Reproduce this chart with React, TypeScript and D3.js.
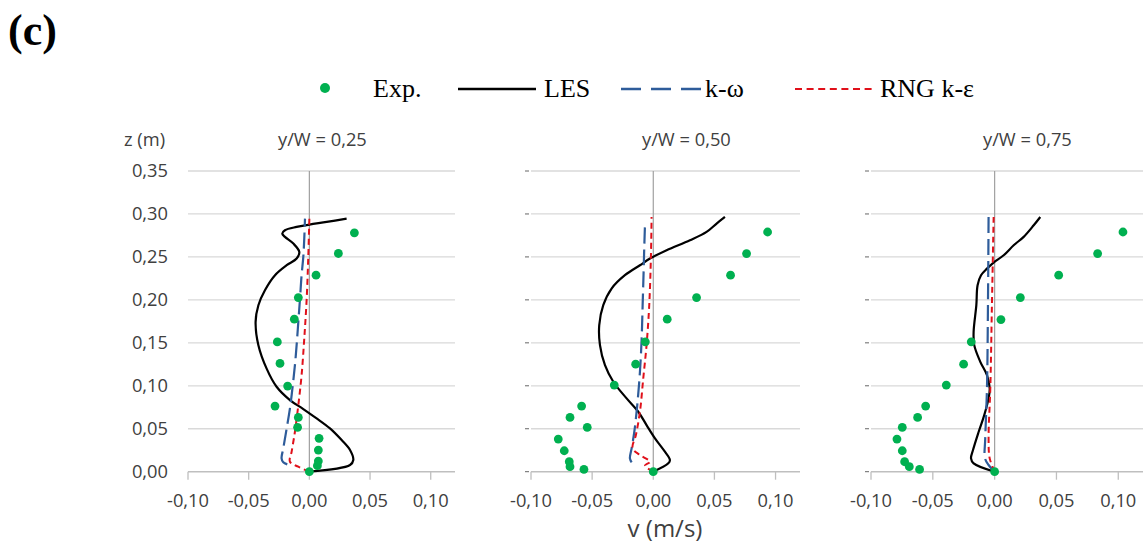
import React from "react";
import * as d3 from "d3";

type P = [number, number];

const panelTitles = ["y/W = 0,25", "y/W = 0,50", "y/W = 0,75"];
const xTicks = [-0.1, -0.05, 0, 0.05, 0.1];
const zTicks = [0, 0.05, 0.1, 0.15, 0.2, 0.25, 0.3, 0.35];
const legendLabels = ["Exp.", "LES", "k-\u03c9", "RNG k-\u03b5"];

// ---- y/W = 0,25 ----
const exp025: P[] = [
  [0.0371, 0.278], [0.0239, 0.254], [0.0055, 0.2287], [-0.0091, 0.2027], [-0.0124, 0.1775],
  [-0.0264, 0.151], [-0.0242, 0.126], [-0.0179, 0.0997], [-0.0283, 0.0764], [-0.0091, 0.0632],
  [-0.0097, 0.0516], [0.008, 0.0388], [0.0074, 0.0252], [0.0074, 0.0124], [0.0066, 0.007], [0, 0],
];
const les025: P[] = [
  [0, 0], [0.0335, 0.0078], [0.0362, 0.0136], [0.0335, 0.0252], [0.0266, 0.0368], [0.017, 0.0504],
  [0.006, 0.062], [-0.005, 0.0729], [-0.016, 0.0834], [-0.027, 0.0989], [-0.0352, 0.12],
  [-0.042, 0.1473], [-0.0443, 0.1744], [-0.042, 0.1938], [-0.0366, 0.2112], [-0.0283, 0.2287],
  [-0.0187, 0.2403], [-0.0105, 0.2481], [-0.0083, 0.2558], [-0.0132, 0.2655], [-0.0201, 0.2733],
  [-0.0223, 0.2771], [-0.0201, 0.281], [-0.0105, 0.2849], [0, 0.2876], [0.0143, 0.2907], [0.0307, 0.2946],
];
const kw025: P[] = [
  [-0.0182, 0.0085], [-0.0215, 0.0109], [-0.0229, 0.0155], [-0.0215, 0.0271], [-0.0187, 0.0504],
  [-0.016, 0.0737], [-0.0138, 0.0989], [-0.0119, 0.124], [-0.0105, 0.1473], [-0.0091, 0.1744],
  [-0.0077, 0.2016], [-0.0064, 0.2287], [-0.005, 0.25], [-0.0042, 0.2713], [-0.0036, 0.2946],
];
const rng025: P[] = [
  [0, 0], [-0.0091, 0.0058], [-0.016, 0.0116], [-0.0146, 0.0233], [-0.0119, 0.0465], [-0.0091, 0.0775],
  [-0.0064, 0.1124], [-0.0042, 0.155], [-0.0022, 0.2016], [-0.0009, 0.25], [0, 0.2946],
];

// ---- y/W = 0,50 ----
const exp050: P[] = [
  [0.0935, 0.279], [0.0763, 0.2539], [0.0632, 0.2287], [0.0354, 0.2027], [0.0114, 0.1775],
  [-0.0065, 0.1512], [-0.0144, 0.1252], [-0.0319, 0.1008], [-0.0586, 0.0764], [-0.0681, 0.0632],
  [-0.054, 0.0516], [-0.0777, 0.038], [-0.0728, 0.0244], [-0.0687, 0.0116], [-0.0681, 0.0058],
  [-0.0567, 0.0027], [0, 0],
];
const les050: P[] = [
  [0, 0], [0.0123, 0.0097], [0.0136, 0.0136], [0.0095, 0.0233], [0.0014, 0.0388], [-0.0055, 0.0543],
  [-0.0123, 0.0698], [-0.0218, 0.0853], [-0.0327, 0.1047], [-0.0395, 0.124], [-0.0436, 0.1473],
  [-0.0442, 0.1705], [-0.0409, 0.1938], [-0.0341, 0.2132], [-0.0232, 0.2287], [-0.0109, 0.2403],
  [-0.0027, 0.2481], [0.0109, 0.2578], [0.03, 0.2694], [0.0436, 0.2791], [0.0518, 0.2888], [0.0586, 0.2965],
];
const kw050: P[] = [
  [-0.0177, 0.0109], [-0.0191, 0.0155], [-0.0177, 0.0272], [-0.0155, 0.0465], [-0.0131, 0.0775],
  [-0.0109, 0.1163], [-0.0095, 0.155], [-0.0087, 0.1938], [-0.0079, 0.2326], [-0.0074, 0.2597],
  [-0.0068, 0.2868],
];
const rng050: P[] = [
  [0, 0], [-0.0068, 0.007], [-0.0027, 0.0116], [-0.0109, 0.0194], [-0.0169, 0.0272], [-0.0142, 0.0427],
  [-0.0109, 0.0698], [-0.0082, 0.1085], [-0.0055, 0.1473], [-0.0033, 0.1938], [-0.0019, 0.252],
  [-0.0014, 0.2965],
];

// ---- y/W = 0,75 ----
const exp075: P[] = [
  [0.1038, 0.279], [0.0833, 0.2539], [0.0518, 0.2287], [0.0208, 0.2027], [0.0051, 0.1771],
  [-0.0189, 0.1512], [-0.0251, 0.1252], [-0.0391, 0.1008], [-0.0558, 0.0764], [-0.0623, 0.0632],
  [-0.0747, 0.0516], [-0.079, 0.038], [-0.0747, 0.0244], [-0.0728, 0.0116], [-0.069, 0.0058],
  [-0.0607, 0.0027], [0, 0],
];
const les075: P[] = [
  [0, 0], [-0.017, 0.0097], [-0.0191, 0.0155], [-0.0175, 0.0252], [-0.0129, 0.0465], [-0.0084, 0.0659],
  [-0.0049, 0.0853], [-0.004, 0.0969], [-0.0062, 0.1124], [-0.0116, 0.1279], [-0.0165, 0.1473],
  [-0.017, 0.1628], [-0.0148, 0.1938], [-0.0138, 0.2171], [-0.011, 0.2287], [-0.0062, 0.2364],
  [-0.0008, 0.2434], [0.0073, 0.2519], [0.0154, 0.2636], [0.0235, 0.2733], [0.0316, 0.2868], [0.0369, 0.2965],
];
const kw075: P[] = [
  [0, 0], [-0.0049, 0.0078], [-0.0078, 0.0155], [-0.0076, 0.0388], [-0.0062, 0.0969],
  [-0.0054, 0.1938], [-0.0049, 0.2965],
];
const rng075: P[] = [
  [0, 0], [-0.004, 0.0155], [-0.0049, 0.0388], [-0.0035, 0.0969], [-0.0022, 0.1938], [-0.0008, 0.2965],
];

const panelsData = [
  { exp: exp025, les: les025, kw: kw025, rng: rng025 },
  { exp: exp050, les: les050, kw: kw050, rng: rng050 },
  { exp: exp075, les: les075, kw: kw075, rng: rng075 },
];

// layout
const W = 1144;
const H = 547;
const xRanges: [number, number][] = [[188, 455], [531, 800], [871, 1143]];
const titleX = [278, 642, 983];
const yRange: [number, number] = [471.7, 171];
const xDomain: [number, number] = [-0.1, 0.12];

const GREEN = "#00b050";
const BLUE = "#2e5c9a";
const RED = "#e0101a";
const TXT = "#404040";
const FONT = "'Open Sans', sans-serif";
const SERIF = "'Liberation Serif', 'Times New Roman', serif";

const fmt = (v: number) => d3.format(".2f")(v).replace(".", ",").replace("\u2212", "-");

const yScale = d3.scaleLinear().domain([0, 0.35]).range(yRange);

function Panel({ idx }: { idx: number }) {
  const x = d3.scaleLinear().domain(xDomain).range(xRanges[idx]);
  const d = panelsData[idx];
  const lineSmooth = d3
    .line<P>()
    .x((p) => x(p[0]))
    .y((p) => yScale(p[1]))
    .curve(d3.curveCatmullRom.alpha(0.5));
  const [x0, x1] = xRanges[idx];
  return (
    <g>
      {zTicks.filter((t) => t > 0).map((t) => (
        <line key={t} x1={x0} x2={x1} y1={yScale(t)} y2={yScale(t)} stroke="#d9d9d9" strokeWidth={1.3} />
      ))}
      {idx === 0
        ? zTicks.map((t) => (
            <text key={t} x={168} y={yScale(t)} dy="0.35em" textAnchor="end" fontSize={18.3} fill={TXT} fontFamily={FONT}>
              {fmt(t)}
            </text>
          ))
        : zTicks.map((t) => (
            <line key={t} x1={x0 - 6} x2={x0 - 2} y1={yScale(t)} y2={yScale(t)} stroke="#666" strokeWidth={1} />
          ))}
      {/* zero vertical axis */}
      <line x1={x(0)} x2={x(0)} y1={yRange[1]} y2={yRange[0]} stroke="#a0a0a0" strokeWidth={1.2} />
      {/* x axis */}
      <line x1={x0} x2={x1} y1={yRange[0]} y2={yRange[0]} stroke="#bfbfbf" strokeWidth={1.5} />
      {xTicks.map((t) => (
        <g key={t}>
          <line x1={x(t)} x2={x(t)} y1={yRange[0]} y2={yRange[0] + 8} stroke="#bfbfbf" strokeWidth={1.3} />
          <text x={x(t)} y={507} textAnchor="middle" fontSize={18.3} fill={TXT} fontFamily={FONT}>
            {fmt(t)}
          </text>
        </g>
      ))}
      <text x={titleX[idx]} y={146} fontSize={18.3} fill={TXT} fontFamily={FONT}>
        {panelTitles[idx]}
      </text>
      {/* series */}
      <path d={lineSmooth(d.les) || ""} fill="none" stroke="#000" strokeWidth={2.2} />
      <path d={lineSmooth(d.kw) || ""} fill="none" stroke={BLUE} strokeWidth={2.2} strokeDasharray="16,6" />
      <path d={lineSmooth(d.rng) || ""} fill="none" stroke={RED} strokeWidth={2} strokeDasharray="6,4" />
      {d.exp.map((p, i) => (
        <circle key={i} cx={x(p[0])} cy={yScale(p[1])} r={4.4} fill={GREEN} />
      ))}
    </g>
  );
}

export default function App() {
  return (
    <svg width={W} height={H} style={{ position: "absolute", left: 0, top: 0, background: "#fff" }}>
      <rect x={0} y={0} width={W} height={H} fill="#fff" />
      <text x={8} y={45} fontSize={44} fontWeight="bold" fontFamily={SERIF} fill="#000">
        (c)
      </text>
      {/* legend */}
      <g fontFamily={SERIF} fontSize={26} fill="#000">
        <circle cx={325} cy={88} r={5} fill={GREEN} />
        <text x={373} y={97}>{legendLabels[0]}</text>
        <line x1={458} x2={536} y1={89} y2={89} stroke="#000" strokeWidth={2.5} />
        <text x={544} y={97}>{legendLabels[1]}</text>
        <line x1={621} x2={702} y1={89} y2={89} stroke={BLUE} strokeWidth={2.5} strokeDasharray="20,10" />
        <text x={705} y={97}>{legendLabels[2]}</text>
        <line x1={795} x2={876} y1={89} y2={89} stroke={RED} strokeWidth={2.2} strokeDasharray="7,4.6" />
        <text x={880} y={97}>{legendLabels[3]}</text>
      </g>
      <text x={124} y={146} fontSize={18.3} fill={TXT} fontFamily={FONT}>
        z (m)
      </text>
      {[0, 1, 2].map((i) => (
        <Panel key={i} idx={i} />
      ))}
      <text x={665} y={537} textAnchor="middle" fontSize={24} fill={TXT} fontFamily={FONT}>
        v (m/s)
      </text>
    </svg>
  );
}
